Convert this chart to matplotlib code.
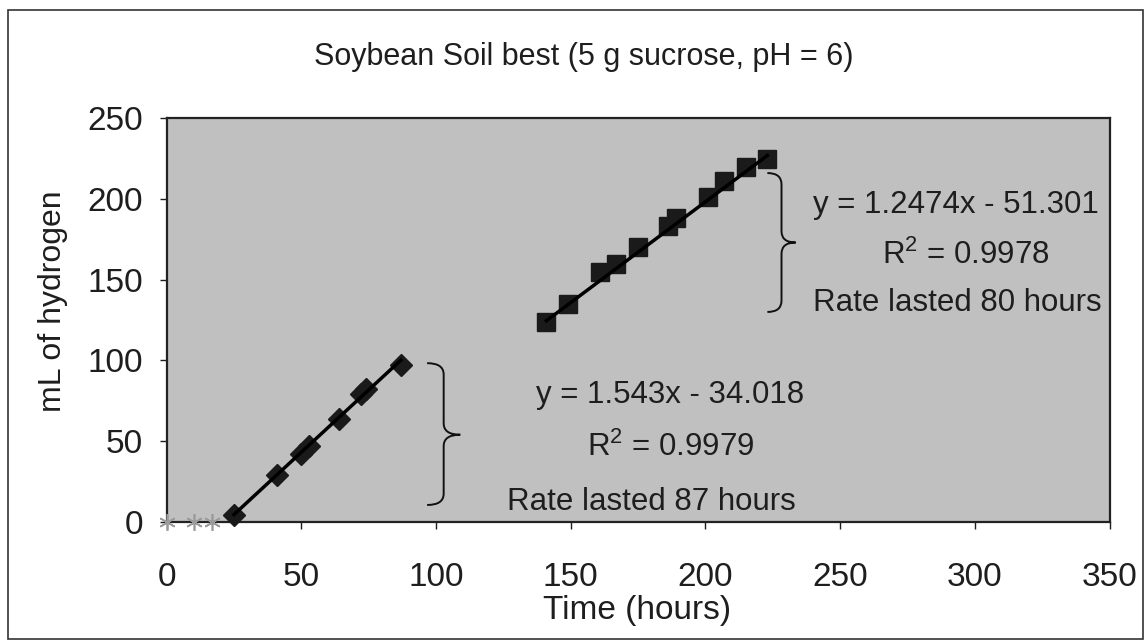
import matplotlib
matplotlib.use('Agg')
import matplotlib.pyplot as plt
import numpy as np
from matplotlib.path import Path
from matplotlib.patches import PathPatch, Rectangle

plt.rcParams['font.family'] = ['Liberation Sans', 'DejaVu Sans']
plt.rcParams['mathtext.fontset'] = 'custom'
plt.rcParams['mathtext.rm'] = 'Liberation Sans'
plt.rcParams['mathtext.it'] = 'Liberation Sans'

# data
t_early = [0, 10, 17]
h_early = [0, 0, 0]

t_rate1 = [25, 41, 50, 53, 64, 72, 74, 87]
h_rate1 = [4, 29, 42, 47, 64, 79, 82, 97]

t_rate2 = [141, 149, 161, 167, 175, 186, 189, 201, 207, 215, 223]
h_rate2 = [124, 135, 155, 160, 170, 183, 188, 201, 211, 220, 225]

# trendline coefficients (slope, intercept) as printed on the chart
fit1 = (1.543, -34.018)
fit2 = (1.2474, -51.301)

TXT = '#1e1e1e'


def brace(ax, x0, ybot, ytop, ymid, w, r):
    xm = x0 + w / 2.0
    verts = [(x0, ytop), (xm, ytop), (xm, ytop - r),
             (xm, ymid + r),
             (xm, ymid), (x0 + w, ymid),
             (xm, ymid), (xm, ymid - r),
             (xm, ybot + r),
             (xm, ybot), (x0, ybot)]
    codes = [Path.MOVETO, Path.CURVE3, Path.CURVE3,
             Path.LINETO,
             Path.CURVE3, Path.CURVE3,
             Path.CURVE3, Path.CURVE3,
             Path.LINETO,
             Path.CURVE3, Path.CURVE3]
    ax.add_patch(PathPatch(Path(verts, codes), fill=False, lw=1.4, ec='#111111', zorder=4))


fig = plt.figure(figsize=(11.45, 6.42), dpi=100)
fig.patch.set_facecolor('white')
ax = fig.add_axes([0.1455, 0.187, 0.8235, 0.629])
ax.set_facecolor('#c0c0c0')

ax.plot(t_early, h_early, ls='none', marker=(6, 2, 0), ms=12, mec='#9a9a9a', mew=1.2, zorder=3, clip_on=False)

ax.plot(t_rate1, h_rate1, ls='none', marker='D', ms=11, color='#1a1a1a', zorder=3, clip_on=False)
ax.plot(t_rate2, h_rate2, ls='none', marker='s', ms=13, color='#1a1a1a', zorder=3)

xs1 = np.array([t_rate1[0], t_rate1[-1]])
ax.plot(xs1, fit1[0] * xs1 + fit1[1], color='black', lw=2.5, zorder=4)
xs2 = np.array([t_rate2[0], t_rate2[-1]])
ax.plot(xs2, fit2[0] * xs2 + fit2[1], color='black', lw=2.5, zorder=4)

brace(ax, 96.7, 10.5, 98.3, 54, 12.3, 7)
brace(ax, 223, 130, 216, 173, 10.5, 7)

fs = 22.5
ax.text(187, 78.5, 'y = 1.543x - 34.018', ha='center', va='center', fontsize=fs, color=TXT)
ax.text(187, 46, 'R$^2$ = 0.9979', ha='center', va='center', fontsize=fs, color=TXT)
ax.text(180, 12.4, 'Rate lasted 87 hours', ha='center', va='center', fontsize=fs, color=TXT)

ax.text(240, 196.5, 'y = 1.2474x - 51.301', ha='left', va='center', fontsize=fs, color=TXT, clip_on=True)
ax.text(296.5, 165, 'R$^2$ = 0.9978', ha='center', va='center', fontsize=fs, color=TXT)
ax.text(240, 135.5, 'Rate lasted 80 hours', ha='left', va='center', fontsize=fs, color=TXT, clip_on=True)

ax.set_xlim(0, 350)
ax.set_ylim(0, 250)
ax.set_xticks(range(0, 351, 50))
ax.set_yticks(range(0, 251, 50))
ax.tick_params(labelsize=24, colors=TXT, length=5, width=1)
ax.tick_params(axis='x', pad=24)
ax.tick_params(axis='y', pad=12)
for s in ax.spines.values():
    s.set_linewidth(1.6)
    s.set_color('#222222')

fig.text(637 / 1145, 1 - 610 / 642, 'Time (hours)', ha='center', va='center', fontsize=24, color=TXT)
fig.text(53 / 1145, 1 - 301 / 642, 'mL of hydrogen', ha='center', va='center', rotation=90,
         fontsize=23, color=TXT)
fig.text(584 / 1145, 1 - 57 / 642, 'Soybean Soil best (5 g sucrose, pH = 6)', ha='center', va='center',
         fontsize=22, color=TXT)

fig.patches.append(Rectangle((0.007, 0.004), 0.991, 0.98, transform=fig.transFigure,
                             fill=False, ec='#333333', lw=1.2))

plt.savefig('out.png', dpi=100)
